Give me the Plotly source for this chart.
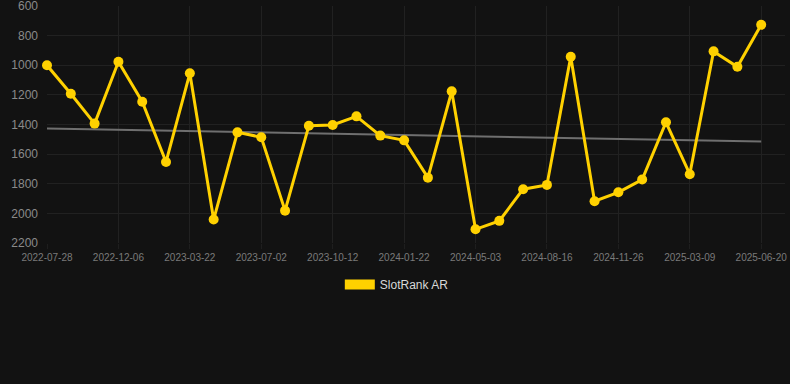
import numpy as np
import plotly.graph_objects as go

dates = [
    "2022-07-28", "2022-09-10", "2022-10-24",
    "2022-12-06", "2023-01-10", "2023-02-14",
    "2023-03-22", "2023-04-25", "2023-05-29",
    "2023-07-02", "2023-08-05", "2023-09-08",
    "2023-10-12", "2023-11-15", "2023-12-19",
    "2024-01-22", "2024-02-25", "2024-03-30",
    "2024-05-03", "2024-06-06", "2024-07-11",
    "2024-08-16", "2024-09-19", "2024-10-23",
    "2024-11-26", "2024-12-30", "2025-02-02",
    "2025-03-09", "2025-04-12", "2025-05-16",
    "2025-06-20",
]
rank = [
    1000, 1192, 1394, 976, 1246, 1653, 1054, 2042, 1453, 1486,
    1982, 1408, 1403, 1345, 1475, 1507, 1759, 1176, 2108, 2051,
    1837, 1808, 942, 1918, 1858, 1772, 1385, 1736, 906, 1010, 726,
]
tick_dates = dates[::3]
y_ticks = [600, 800, 1000, 1200, 1400, 1600, 1800, 2000, 2200]
series_name = "SlotRank AR"

GOLD = "#FFD100"
idx = np.arange(len(rank))
slope, intercept = np.polyfit(idx, rank, 1)
trend = slope * idx + intercept

fig = go.Figure()
fig.add_trace(go.Scatter(
    x=dates, y=trend, mode="lines",
    line=dict(color="#6f6f6f", width=2),
    showlegend=False, hoverinfo="skip", cliponaxis=False,
))
fig.add_trace(go.Scatter(
    x=dates, y=rank, mode="lines+markers",
    line=dict(color=GOLD, width=3),
    marker=dict(color=GOLD, size=10),
    showlegend=False, cliponaxis=False, name=series_name,
))
fig.add_trace(go.Scatter(
    x=[None], y=[None], mode="lines",
    line=dict(color=GOLD, width=12),
    name=series_name, showlegend=True,
))

fig.update_layout(
    width=790, height=384,
    margin=dict(l=47, r=5, t=6, b=141, autoexpand=False),
    paper_bgcolor="#121212", plot_bgcolor="#121212",
    font=dict(family="Liberation Sans, Arial, sans-serif", color="#8a8a8a"),
    showlegend=True,
    legend=dict(
        orientation="h", x=0.474, xanchor="center", y=-0.175, yanchor="middle",
        font=dict(size=12, color="#d8d8d8"), bgcolor="rgba(0,0,0,0)",
    ),
    xaxis=dict(
        type="category", categoryorder="array", categoryarray=dates,
        range=[0, 31], tickvals=tick_dates, ticktext=tick_dates,
        showgrid=True, gridcolor="#212121", gridwidth=1,
        zeroline=False, showline=False, automargin=False,
        tickfont=dict(size=10, color="#7a7a7a"),
        ticks="outside", ticklen=5, tickcolor="#1e1e1e",
        ticklabeloverflow="allow",
    ),
    yaxis=dict(
        range=[2200.5, 599.5], tickvals=y_ticks,
        showgrid=True, gridcolor="#212121", gridwidth=1,
        zeroline=False, showline=False, automargin=False,
        tickfont=dict(size=12, color="#8a8a8a"),
        ticks="", ticklabelstandoff=8,
        ticklabeloverflow="allow",
    ),
)

fig.write_html(
    "out.html",
    config={"displayModeBar": False},
    post_script="document.body.style.margin='0';document.body.style.background='#121212';",
)
